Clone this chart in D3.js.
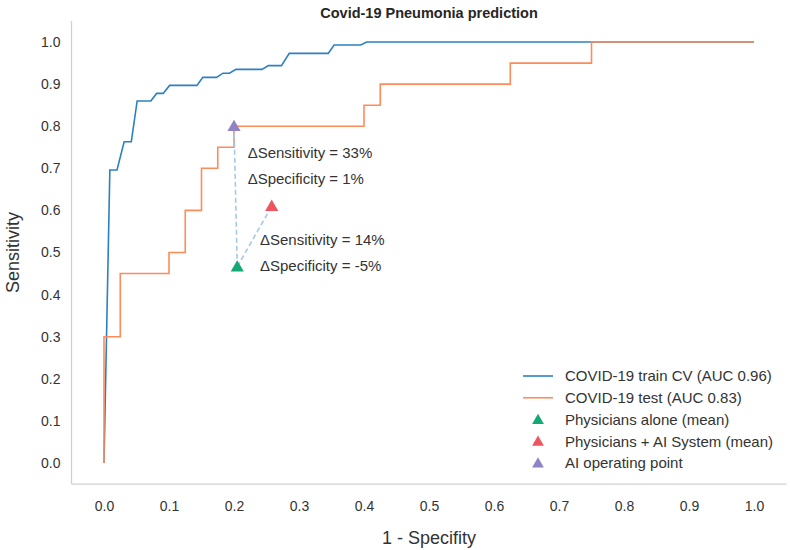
<!DOCTYPE html>
<html><head><meta charset="utf-8">
<script src="https://cdn.jsdelivr.net/npm/d3@7"></script>
<style>
html,body{margin:0;padding:0;background:#fff;}
text{font-family:"Liberation Sans",Arial,Helvetica,sans-serif;}
</style></head>
<body><svg id="c" width="790" height="550"></svg>
<script>
// ---- data ----
const trainFPR = [0,0.009,0.02,0.031,0.042,0.051,0.072,0.081,0.091,0.101,0.143,0.152,0.173,0.183,0.193,0.203,0.243,0.253,0.273,0.285,0.345,0.354,0.395,0.404,1.0];
const trainTPR = [0,0.696,0.696,0.763,0.763,0.86,0.86,0.878,0.878,0.897,0.897,0.916,0.916,0.926,0.926,0.935,0.935,0.944,0.944,0.973,0.973,0.993,0.993,1.0,1.0];
const testFPR = [0,0,0.025,0.025,0.1,0.1,0.125,0.125,0.15,0.15,0.175,0.175,0.2,0.2,0.4,0.4,0.425,0.425,0.625,0.625,0.75,0.75,1.0];
const testTPR = [0,0.3,0.3,0.45,0.45,0.5,0.5,0.6,0.6,0.7,0.7,0.75,0.75,0.8,0.8,0.85,0.85,0.9,0.9,0.95,0.95,1.0,1.0];
const pointNames = ["Physicians alone (mean)","Physicians + AI System (mean)","AI operating point"];
const pointX = [0.205,0.258,0.2];
const pointY = [0.466,0.61,0.8];
const seriesNames = ["COVID-19 train CV (AUC 0.96)","COVID-19 test (AUC 0.83)"];
const xTicks = [0,0.1,0.2,0.3,0.4,0.5,0.6,0.7,0.8,0.9,1.0];
const yTicks = [0,0.1,0.2,0.3,0.4,0.5,0.6,0.7,0.8,0.9,1.0];
const annTexts = ["ΔSensitivity = 33%","ΔSpecificity = 1%","ΔSensitivity = 14%","ΔSpecificity = -5%"];
const annX = [0.221,0.221,0.24,0.24];
const annY = [0.736,0.676,0.53,0.468];
const title = "Covid-19 Pneumonia prediction";
const xLabel = "1 - Specifity";
const yLabel = "Sensitivity";

// ---- styles ----
const lineColors = ["#2b80c2","#fd8c5b"];
const pointColors = ["#13a875","#ef5561","#8e83c4"];
const dashColor = "#a8c8e6";
const textColor = "#333333";

const svg = d3.select("#c");
const L = 71.5, R = 786.5, T = 21, B = 484;
const x = d3.scaleLinear().domain([-0.05,1.05]).range([L,R]);
const y = d3.scaleLinear().domain([-0.05,1.05]).range([B,T]);

// spines
svg.append("line").attr("x1",L).attr("x2",L).attr("y1",T).attr("y2",B)
  .attr("stroke","#d0d0d0").attr("stroke-width",1.25);
svg.append("line").attr("x1",L).attr("x2",R).attr("y1",B).attr("y2",B)
  .attr("stroke","#d0d0d0").attr("stroke-width",1.25);

// ticks
const xAxis = d3.axisBottom(x).tickValues(xTicks).tickFormat(d3.format(".1f")).tickSize(0).tickPadding(17);
const gx = svg.append("g").attr("transform",`translate(0,${B})`).call(xAxis);
gx.select(".domain").remove();
gx.selectAll("text").attr("font-size",14).attr("fill",textColor).style("font-family","'Liberation Sans',Arial,sans-serif");
const yAxis = d3.axisLeft(y).tickValues(yTicks).tickFormat(d3.format(".1f")).tickSize(0).tickPadding(11);
const gy = svg.append("g").attr("transform",`translate(${L},0)`).call(yAxis);
gy.select(".domain").remove();
gy.selectAll("text").attr("font-size",14).attr("fill",textColor).style("font-family","'Liberation Sans',Arial,sans-serif");

// curves
const line = d3.line().x(d=>x(d[0])).y(d=>y(d[1]));
const trainData = trainFPR.map((v,i)=>[v,trainTPR[i]]);
const testData = testFPR.map((v,i)=>[v,testTPR[i]]);
svg.append("path").datum(trainData).attr("d",line).attr("fill","none")
  .attr("stroke",lineColors[0]).attr("stroke-width",1.6);
svg.append("path").datum(testData).attr("d",line).attr("fill","none")
  .attr("stroke",lineColors[1]).attr("stroke-width",1.6);

// dashed connectors (from physicians alone to the other two)
[2,1].forEach(j=>{
  svg.append("line").attr("x1",x(pointX[0])).attr("y1",y(pointY[0]))
    .attr("x2",x(pointX[j])).attr("y2",y(pointY[j]))
    .attr("stroke",dashColor).attr("stroke-width",1.6).attr("stroke-dasharray","5,3");
});

// triangles
const tri = d3.symbol().type(d3.symbolTriangle).size(75);
pointX.forEach((v,i)=>{
  svg.append("path").attr("d",tri).attr("fill",pointColors[i])
    .attr("transform",`translate(${x(v)},${y(pointY[i])+1})`);
});

// annotations
annTexts.forEach((t,i)=>{
  svg.append("text").attr("x",x(annX[i])).attr("y",y(annY[i])).attr("dy","0.35em")
    .attr("font-size",15).attr("fill",textColor).text(t);
});

// legend
const lgX = 523, lgY0 = 376, lgStep = 21.75;
seriesNames.forEach((n,i)=>{
  const yy = lgY0 + i*lgStep;
  svg.append("line").attr("x1",lgX).attr("x2",lgX+30).attr("y1",yy).attr("y2",yy)
    .attr("stroke",lineColors[i]).attr("stroke-width",1.6);
  svg.append("text").attr("x",lgX+42).attr("y",yy).attr("dy","0.35em")
    .attr("font-size",15).attr("fill",textColor).text(n);
});
pointNames.forEach((n,i)=>{
  const yy = lgY0 + (i+2)*lgStep;
  svg.append("path").attr("d",d3.symbol().type(d3.symbolTriangle).size(60)).attr("fill",pointColors[i])
    .attr("transform",`translate(${lgX+15},${yy+1})`);
  svg.append("text").attr("x",lgX+42).attr("y",yy).attr("dy","0.35em")
    .attr("font-size",15).attr("fill",textColor).text(n);
});

// title and labels
svg.append("text").attr("x",(L+R)/2).attr("y",13).attr("dy","0.35em").attr("text-anchor","middle")
  .attr("font-size",14.5).attr("font-weight","bold").attr("fill","#262626").text(title);
svg.append("text").attr("x",(L+R)/2).attr("y",538).attr("dy","0.35em").attr("text-anchor","middle")
  .attr("font-size",18).attr("fill",textColor).text(xLabel);
svg.append("text").attr("transform",`translate(13,${(T+B)/2}) rotate(-90)`).attr("dy","0.35em")
  .attr("text-anchor","middle").attr("font-size",18).attr("fill",textColor).text(yLabel);
</script></body></html>
